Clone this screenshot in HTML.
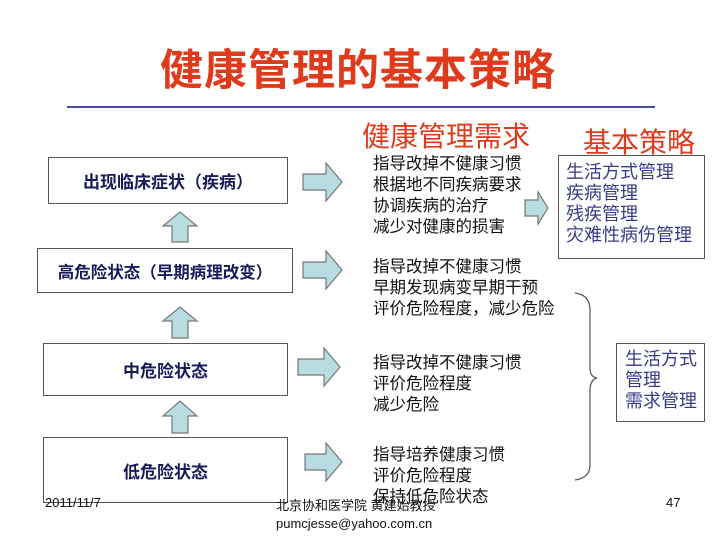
<!DOCTYPE html>
<html><head><meta charset="utf-8"><style>
body{margin:0;width:720px;height:540px;background:#fff;position:relative;overflow:hidden;font-family:"Liberation Sans","Noto Sans CJK SC",sans-serif}
.a{position:absolute;white-space:nowrap}
.box{position:absolute;border:1.5px solid #555;background:#fff;box-sizing:border-box;display:flex;align-items:center;justify-content:center;font-weight:bold;color:#1a1a5a;font-size:17px}
.t{position:absolute;font-size:16.5px;line-height:21px;color:#111;white-space:nowrap}
.b{color:#3a3a8a;font-size:18px;line-height:21px}
</style></head><body>
<div class="a" style="left:160px;top:36px;font-size:43px;color:#e03a1c;font-weight:bold;letter-spacing:1px">健康管理的基本策略</div>
<div class="a" style="left:67px;top:106px;width:588px;height:1.5px;background:#4a4aa0"></div>
<div class="a" style="left:362px;top:115px;font-size:28px;color:#e03a1c">健康管理需求</div>
<div class="a" style="left:583px;top:121px;font-size:28px;color:#e03a1c">基本策略</div>

<div class="box" style="left:48px;top:157px;width:240px;height:47px">出现临床症状（疾病）</div>
<div class="box" style="left:37px;top:248px;width:256px;height:45px;font-size:16.5px">高危险状态（早期病理改变）</div>
<div class="box" style="left:43px;top:343px;width:245px;height:53px">中危险状态</div>
<div class="box" style="left:43px;top:437px;width:245px;height:66px">低危险状态</div>

<svg class="a" style="left:0;top:0" width="720" height="540">
<g fill="#b7dde0" stroke="#777" stroke-width="1.2">
<path d="M172 242 V226 H163 L180 212 L197 226 H188 V242 Z"/>
<path d="M172 338 V321 H163 L180 307 L197 321 H188 V338 Z"/>
<path d="M172 433 V416 H163 L180 401 L197 416 H188 V433 Z"/>
<path d="M303 174 H326 V163 L342 182 L326 201 V190 H303 Z"/>
<path d="M303 262 H326 V251 L342 270 L326 289 V278 H303 Z"/>
<path d="M298 359 H324 V348 L340 367 L324 386 V375 H298 Z"/>
<path d="M305 454 H326 V443 L342 462 L326 481 V470 H305 Z"/>
<path d="M525 200 H538 V192 L548 208 L538 224 V216 H525 Z"/>
</g>
<path d="M575 293 Q590 295 590 310 V368 Q590 377 597 378 Q590 380 590 390 V465 Q590 478 575 480" fill="none" stroke="#555" stroke-width="1.2"/>
</svg>

<div class="t" style="left:373px;top:154px">指导改掉不健康习惯<br>根据地不同疾病要求<br>协调疾病的治疗<br>减少对健康的损害</div>
<div class="t" style="left:373px;top:257px">指导改掉不健康习惯<br>早期发现病变早期干预<br>评价危险程度，减少危险</div>
<div class="t" style="left:373px;top:353px">指导改掉不健康习惯<br>评价危险程度<br>减少危险</div>
<div class="t" style="left:373px;top:445px">指导培养健康习惯<br>评价危险程度<br>保持低危险状态</div>

<div class="a" style="left:558px;top:155px;width:147px;height:104px;border:1.5px solid #555;box-sizing:border-box;padding:6px 0 0 7px"><div class="b">生活方式管理<br>疾病管理<br>残疾管理<br>灾难性病伤管理</div></div>
<div class="a" style="left:616px;top:343px;width:89px;height:79px;border:1.5px solid #555;box-sizing:border-box;padding:5px 0 0 8px"><div class="b">生活方式<br>管理<br>需求管理</div></div>

<div class="a" style="left:45px;top:495px;font-size:13px;color:#111">2011/11/7</div>
<div class="a" style="left:276px;top:497px;font-size:13px;color:#111;line-height:18px">北京协和医学院 黄建始教授<br>pumcjesse@yahoo.com.cn</div>
<div class="a" style="left:666px;top:495px;font-size:13px;color:#111">47</div>
</body></html>
